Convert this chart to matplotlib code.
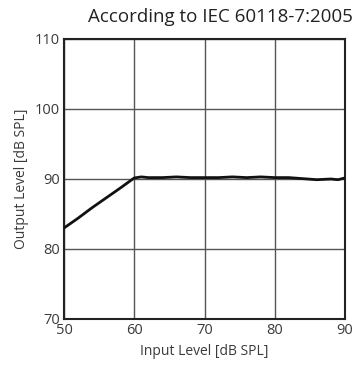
import matplotlib
matplotlib.use("Agg")
import matplotlib.pyplot as plt

# input/output curve
inp = [50, 52, 54, 56, 58, 60, 61, 62, 64, 66, 68, 70, 72, 74, 76, 78, 80, 82, 84, 86, 88, 89, 90]
out = [83.0, 84.4, 85.9, 87.3, 88.7, 90.15, 90.3, 90.2, 90.2, 90.3, 90.2, 90.2, 90.2, 90.3, 90.2, 90.3,
       90.2, 90.2, 90.05, 89.9, 90.0, 89.9, 90.15]
xticks = [50, 60, 70, 80, 90]
yticks = [70, 80, 90, 100, 110]

plt.rcParams["font.family"] = ["Open Sans", "DejaVu Sans"]
TXT = "#3a3a3a"

fig = plt.figure(figsize=(3.58, 3.66), dpi=100)
ax = fig.add_axes([64 / 358, 1 - 319 / 366, 281 / 358, 280 / 366])
ax.plot(inp, out, color="#111111", lw=2.0, zorder=3)
ax.set_xlim(50, 90); ax.set_ylim(70, 110)
ax.set_xticks(xticks); ax.set_yticks(yticks)
ax.grid(True, color="#555555", lw=1.0)
ax.tick_params(length=0, pad=3, labelsize=10.5, colors=TXT)
for s in ax.spines.values():
    s.set_color("#222222"); s.set_linewidth(1.5)
ax.set_xlabel("Input Level [dB SPL]", fontsize=10, color=TXT, labelpad=4)
ax.set_ylabel("Output Level [dB SPL]", fontsize=10, color=TXT, labelpad=4)
fig.text(353 / 358, 1 - 17 / 366, "According to IEC 60118-7:2005", ha="right", va="center",
         fontsize=13.5, color="#222222")
fig.savefig("out.png", dpi=100)
